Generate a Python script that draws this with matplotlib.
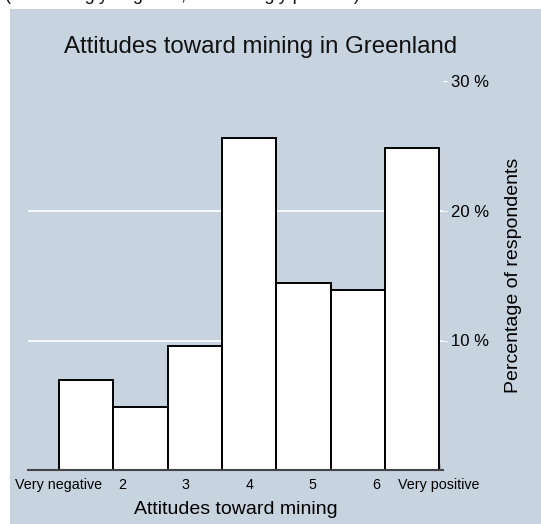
import matplotlib
matplotlib.use("Agg")
import matplotlib.pyplot as plt
from matplotlib.patches import Rectangle
import numpy as np

plt.rcParams['font.family'] = ['Liberation Sans', 'DejaVu Sans']

categories = ["Very negative", "2", "3", "4", "5", "6", "Very positive"]
tick_values = [1, 2, 3, 4, 5, 6, 7]
percentages = [6.95, 4.84, 9.54, 25.6, 14.45, 13.9, 24.9]
y_ticks = [10, 20, 30]
y_tick_labels = ["10 %", "20 %", "30 %"]

W, H = 541, 524
bg = "#C7D3DF"
fig = plt.figure(figsize=(W / 100, H / 100), dpi=100, facecolor="white")

# graph region background
fig.patches.append(Rectangle((10 / W, 0), 1 - 10 / W, (H - 9) / H,
                             transform=fig.transFigure, facecolor=bg,
                             edgecolor="none", zorder=-10))
# caption above the graph region, clipped by the image edge (as in the reference)
fig.text(5 / W, 1 + 0.5 / H, "(1 = Strongly negative, 7 = Strongly positive)",
         fontsize=13, va="baseline", ha="left", color="#111111")

left, right = 28, 443
top, bottom = 81.5, 470
ax = fig.add_axes([left / W, (H - bottom) / H, (right - left) / W, (bottom - top) / H])
ax.set_facecolor(bg)

edges = np.linspace(tick_values[0], tick_values[-1], len(percentages) + 1)
widths = np.diff(edges)
ax.bar(edges[:-1], percentages, width=widths, align="edge", color="white",
       edgecolor="black", linewidth=1.4, zorder=3)

ax.set_xlim(0.51, 7.06)
ax.set_ylim(0, 30)

for yv in y_ticks[:-1]:
    ax.axhline(yv, color="white", linewidth=1.2, zorder=1)

ax.yaxis.tick_right()
ax.yaxis.set_label_position("right")
ax.set_yticks(y_ticks)
ax.set_yticklabels(y_tick_labels, fontsize=12)
ax.tick_params(axis="y", direction="out", length=3, color="white", pad=2.5)

ax.set_xticks(tick_values)
ax.set_xticklabels(categories, fontsize=10.3)
ax.tick_params(axis="x", direction="in", length=5, color="#333333", width=1, pad=6)
for t in ax.xaxis.get_major_ticks():
    t.tick1line.set_zorder(5)

for s in ["top", "right", "left"]:
    ax.spines[s].set_visible(False)
ax.spines["bottom"].set_color("#444444")
ax.spines["bottom"].set_linewidth(1.5)
ax.spines["bottom"].set_zorder(4)

ax.set_xlabel("Attitudes toward mining", fontsize=14, labelpad=6.5)
ax.set_ylabel("Percentage of respondents", fontsize=14, labelpad=12)

fig.text(261 / W, 1 - 47 / H, "Attitudes toward mining in Greenland",
         fontsize=17.3, ha="center", va="center", color="#111111")

fig.savefig("out.png", dpi=100, facecolor="white")
